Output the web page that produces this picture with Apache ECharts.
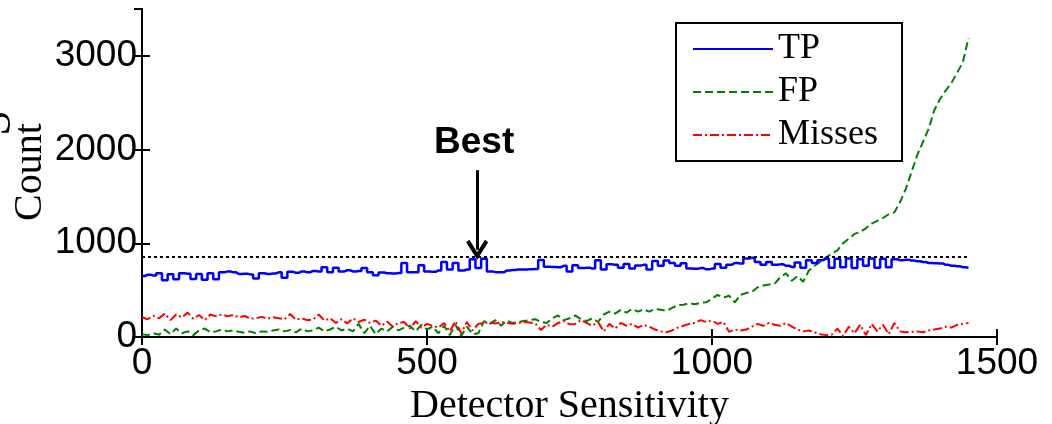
<!DOCTYPE html>
<html lang="en">
<head>
    <meta charset="UTF-8">
    <title>Detector Sensitivity</title>
    <script src="https://cdn.jsdelivr.net/npm/echarts@6/dist/echarts.min.js"></script>
    <style>
        *{
            margin:0;
            padding:0;
            overflow: hidden;
        }
        .main{
            width:1052px;
            height:424px;
            background:#fff;
        }
    </style>
</head>
<body>
    <div class="main"></div>
    <script>
        // detector sensitivity is sampled every 10 units, 0 .. 1450
        var step = 10
        var xTicks = [0, 500, 1000, 1500]
        var yTicks = [0, 1000, 2000, 3000]

        var tp = [
            650, 665, 655, 680, 605, 670, 615, 680, 675, 620,
            672, 610, 680, 615, 690, 700, 690, 672, 675, 668,
            625, 680, 672, 678, 690, 632, 695, 685, 700, 690,
            705, 700, 745, 690, 740, 700, 712, 700, 705, 735,
            690, 660, 688, 680, 678, 682, 790, 690, 692, 765,
            700, 695, 710, 800, 720, 790, 710, 720, 830, 735,
            835, 700, 692, 690, 710, 715, 720, 720, 722, 725,
            822, 750, 748, 745, 760, 700, 765, 735, 740, 730,
            820, 720, 775, 770, 740, 778, 730, 762, 770, 720,
            810, 760, 815, 790, 760, 788, 730, 728, 735, 722,
            730, 780, 740, 772, 790, 785, 838, 845, 800, 770,
            800, 770, 775, 760, 748, 795, 740, 820, 790, 820,
            836, 740, 835, 745, 838, 735, 830, 760, 838, 740,
            835, 745, 830, 820, 825, 815, 808, 800, 790, 788,
            785, 770, 760, 755, 745, 740
        ]
        var fp = [
            30, 20, 40, 25, 80, 30, 90, 40, 60, 20,
            70, 90, 50, 60, 80, 60, 70, 55, 45, 60,
            40, 60, 55, 70, 80, 60, 75, 50, 90, 60,
            70, 100, 60, 80, 110, 70, 90, 60, 140, 40,
            120, 30, 90, 60, 110, 70, 100, 120, 60, 130,
            80, 110, 40, 120, 20, 130, 10, 110, 30, 40,
            170, 140, 180, 120, 175, 150, 160, 170, 180, 190,
            160, 150, 200, 230, 180, 200, 230, 190, 170, 200,
            160, 240, 270, 250, 290, 260, 300, 270, 295, 270,
            300, 290, 280, 310, 340, 345, 360, 350, 365, 370,
            410, 450, 420, 440, 370, 450, 470, 480, 530, 550,
            560, 570, 640, 680, 600, 650, 590, 710, 760, 800,
            850, 890, 925, 1000, 1050, 1100, 1120, 1160, 1210, 1240,
            1270, 1310, 1330, 1440, 1580, 1760, 1940, 2080, 2220, 2420,
            2540, 2630, 2710, 2820, 2930, 3190
        ]
        var misses = [
            210, 190, 225, 200, 250, 180, 240, 210, 260, 195,
            235, 180, 240, 220, 240, 220, 235, 210, 225, 195,
            200, 215, 195, 210, 200, 190, 245, 185, 200, 180,
            185, 240, 175, 200, 150, 190, 145, 200, 160, 185,
            150, 175, 120, 165, 110, 150, 160, 90, 170, 100,
            140, 120, 100, 150, 60, 170, 40, 160, 70, 140,
            150, 155, 145, 160, 150, 140, 150, 160, 155, 145,
            75, 130, 110, 150, 170, 135, 140, 180, 150, 120,
            160, 60, 140, 90, 150, 120, 140, 100, 130, 110,
            80, 60, 50, 70, 100, 120, 140, 150, 180, 160,
            175, 140, 160, 55, 80, 70, 80, 110, 140, 120,
            150, 130, 120, 150, 110, 80, 60, 70, 50, 30,
            20, 25, 90, 10, 110, 40, 130, 20, 140, 60,
            130, 30, 150, 60, 50, 55, 60, 50, 70, 80,
            90, 110, 100, 130, 140, 150
        ]
        var bestLevel = 860      // dotted reference line
        var bestAt = 588         // sensitivity pointed to by the arrow

        function pairs(arr){
            var out=[]
            for (var i=0;i<arr.length;i++){
                out.push([i*step, arr[i]])
            }
            return out
        }
        var lastX = (tp.length-1)*step

        var sans = "'Liberation Sans', Arial, sans-serif"
        var serif = "'Liberation Serif', 'Times New Roman', serif"

        var myChart=echarts.init(document.querySelector('.main'), null, {renderer:'canvas'})
        var tickStyle = {inside:true, length:8, lineStyle:{color:'#000', width:2}}
        var lineStyle = {lineStyle:{color:'#000', width:2}}
        var option={
            animation:false,
            backgroundColor:'#fff',
            grid:{left:142, right:55, top:9, bottom:87, containLabel:false, outerBoundsMode:'none'},
            legend:{
                data:['TP','FP','Misses'],
                orient:'vertical',
                left:676,
                top:23,
                itemWidth:80,
                itemHeight:30,
                itemGap:7,
                padding:[8,24,8,16],
                borderColor:'#000',
                borderWidth:2,
                borderRadius:0,
                backgroundColor:'#fff',
                itemStyle:{opacity:0},
                textStyle:{fontFamily:serif, fontSize:36, color:'#000'}
            },
            xAxis:[{
                type:'value',
                min:0, max:1500, interval:500,
                name:'Detector Sensitivity',
                nameLocation:'middle',
                nameGap:48,
                nameTextStyle:{fontFamily:serif, fontSize:40, color:'#000'},
                axisLine:lineStyle,
                axisTick:tickStyle,
                splitLine:{show:false},
                axisLabel:{fontFamily:sans, fontSize:37, color:'#000', margin:8,
                    formatter:function(v){ return xTicks.indexOf(v)>=0 ? String(v) : '' }}
            },{
                type:'value', position:'top',
                min:0, max:1500, interval:500,
                axisLine:lineStyle,
                axisTick:tickStyle,
                splitLine:{show:false},
                axisLabel:{show:false}
            }],
            yAxis:[{
                type:'value',
                min:0, max:3500, interval:1000,
                axisLine:lineStyle,
                axisTick:tickStyle,
                splitLine:{show:false},
                axisLabel:{fontFamily:sans, fontSize:37, color:'#000', margin:5, showMaxLabel:false,
                    formatter:function(v){ return yTicks.indexOf(v)>=0 ? String(v) : '' }}
            },{
                type:'value', position:'right',
                min:0, max:3500, interval:1000,
                axisLine:lineStyle,
                axisTick:tickStyle,
                splitLine:{show:false},
                axisLabel:{show:false}
            }],
            series:[
                {
                    name:'TP',
                    type:'line',
                    step:'middle',
                    data:pairs(tp),
                    showSymbol:false,
                    symbol:'none',
                    color:'#0000ff',
                    lineStyle:{color:'#0000ff', width:2.5},
                    z:3,
                    markLine:{
                        silent:true,
                        animation:false,
                        label:{show:false},
                        data:[
                            [
                                {coord:[0,bestLevel], symbol:'none',
                                    lineStyle:{color:'#000', type:[3,3], width:2}},
                                {coord:[lastX,bestLevel], symbol:'none'}
                            ],
                            [
                                {coord:[bestAt,1780], symbol:'none',
                                    lineStyle:{color:'#000', type:'solid', width:3}},
                                {coord:[bestAt,930], symbol:'path://M10,0 L20,15 L17,17 L10,6.5 L3,17 L0,15 Z', symbolSize:[22,20]}
                            ]
                        ]
                    }
                },
                {
                    name:'FP',
                    type:'line',
                    data:pairs(fp),
                    showSymbol:false,
                    symbol:'none',
                    color:'#008000',
                    lineStyle:{color:'#008000', width:2, type:[8,4]},
                    z:2
                },
                {
                    name:'Misses',
                    type:'line',
                    data:pairs(misses),
                    showSymbol:false,
                    symbol:'none',
                    color:'#ff0000',
                    lineStyle:{color:'#ff0000', width:2, type:[9,3,2,3]},
                    z:2
                }
            ],
            graphic:[
                {
                    type:'text',
                    left:434, top:124,
                    style:{text:'Best', font:"bold 37px "+sans, fill:'#000'}
                },
                {
                    // y-axis title
                    type:'text',
                    x:30, y:172,
                    rotation:Math.PI/2,
                    style:{text:'Count', font:"40px "+serif, fill:'#000', align:'center', verticalAlign:'middle'}
                },
                {
                    type:'text',
                    x:-2, y:123,
                    rotation:Math.PI/2,
                    style:{text:'S', font:"46px "+serif, fill:'#000', align:'center', verticalAlign:'middle'}
                }
            ]
        }
        myChart.setOption(option)
    </script>
</body>
</html>
